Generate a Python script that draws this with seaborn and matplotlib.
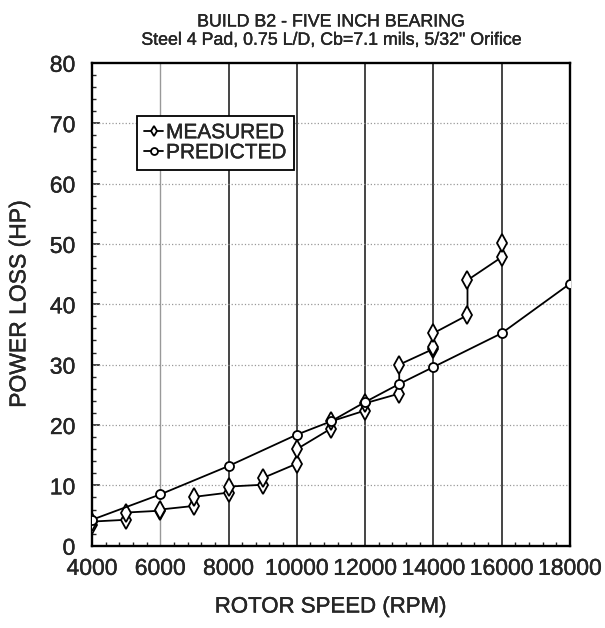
import numpy as np
import pandas as pd
import matplotlib
matplotlib.use("Agg")
import matplotlib.pyplot as plt
import matplotlib.patheffects as pe
from matplotlib.ticker import MultipleLocator
import seaborn as sns

# predicted power loss
pred_speed = [4000, 6000, 8000, 10000, 11000, 12000, 13000, 14000, 16000, 18000]
pred_hp = [4.3, 8.5, 13.2, 18.4, 20.6, 23.8, 26.8, 29.6, 35.2, 43.4]

# measured power loss (two readings per speed, drawn in test order)
meas_speed = [4000, 4000, 5000, 5000, 6000, 6000, 7000, 7000, 8000, 8000,
              9000, 9000, 10000, 10000, 11000, 11000, 12000, 12000,
              13000, 13000, 14000, 14000, 14000, 15000, 15000, 16000, 16000]
meas_hp = [3.4, 4.0, 4.3, 5.5, 5.8, 6.0, 6.6, 8.1, 8.8, 9.8,
           10.1, 11.2, 13.6, 16.0, 19.4, 20.6, 22.4, 23.6,
           25.2, 30.0, 32.6, 33.0, 35.2, 38.2, 44.0, 47.8, 50.2]

sns.set_style("ticks")
plt.rcParams['font.family'] = ['Liberation Sans', 'DejaVu Sans']
thick = [pe.withStroke(linewidth=0.25, foreground='black')]

fig = plt.figure(figsize=(6.05, 6.28), dpi=100)
ax = fig.add_axes([0.152, 0.131, 0.79, 0.769])

meas = pd.DataFrame({'speed': meas_speed, 'hp': meas_hp})
pred = pd.DataFrame({'speed': pred_speed, 'hp': pred_hp})

sns.lineplot(data=meas, x='speed', y='hp', sort=False, estimator=None, ax=ax,
             color='black', lw=1.3, marker='d', markersize=9, markerfacecolor='white',
             markeredgecolor='black', markeredgewidth=1.3, label='MEASURED', zorder=3)
sns.lineplot(data=pred, x='speed', y='hp', sort=False, estimator=None, ax=ax,
             color='black', lw=1.3, marker='o', markersize=6.5, markerfacecolor='white',
             markeredgecolor='black', markeredgewidth=1.3, label='PREDICTED', zorder=3)

ax.set_xlim(4000, 18000)
ax.set_ylim(0, 80)
ax.xaxis.set_major_locator(MultipleLocator(2000))
ax.xaxis.set_minor_locator(MultipleLocator(400))
ax.yaxis.set_major_locator(MultipleLocator(10))
ax.yaxis.set_minor_locator(MultipleLocator(2))

for v in range(6000, 18000, 2000):
    if v == 6000:
        ax.axvline(v, color='#999999', lw=1.0, zorder=1)
    else:
        ax.axvline(v, color='#444444', lw=1.4, zorder=1)
for h in range(10, 80, 10):
    ax.axhline(h, color='#999999', lw=0.9, ls=':', zorder=1)

ax.tick_params(which='both', direction='in', labelsize=16.5)
ax.tick_params(axis='y', pad=12)
ax.tick_params(axis='x', pad=8)
ax.tick_params(which='major', length=6, width=1.2)
ax.tick_params(which='minor', length=3, width=1)
ax.tick_params(axis='x', which='major', length=0)
for s in ax.spines.values():
    s.set_linewidth(1.7)
    s.set_color('black')
for t in ax.get_xticklabels() + ax.get_yticklabels():
    t.set_path_effects(thick)

ax.set_xlabel('ROTOR SPEED (RPM)', fontsize=16, labelpad=12, path_effects=thick)
ax.set_ylabel('POWER LOSS (HP)', fontsize=16.5, labelpad=14, path_effects=thick)
ax.set_title('BUILD B2 - FIVE INCH BEARING\nSteel 4 Pad, 0.75 L/D, Cb=7.1 mils, 5/32" Orifice',
             fontsize=12.8, pad=13, linespacing=1.1, path_effects=thick)

leg = ax.legend(loc='upper left', bbox_to_anchor=(0.094, 0.89), fontsize=15,
                handlelength=0.9, handletextpad=0.15, borderpad=0.35,
                labelspacing=0.05, fancybox=False, framealpha=1, borderaxespad=0)
leg.get_frame().set_edgecolor('black')
leg.get_frame().set_linewidth(1.3)
for h in leg.legend_handles:
    h.set_markersize(5)
for t in leg.get_texts():
    t.set_path_effects(thick)

fig.savefig('out.png', dpi=100)
